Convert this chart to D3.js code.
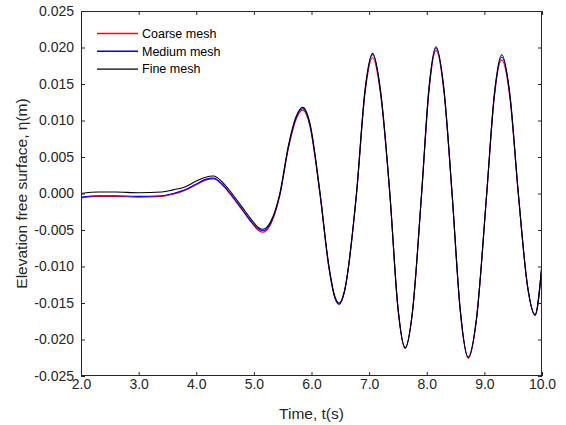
<!DOCTYPE html>
<html>
<head>
<meta charset="utf-8">
<script src="https://cdn.jsdelivr.net/npm/d3@7"></script>
<style>
  html, body { margin: 0; padding: 0; background: #fff; }
  svg { display: block; font-family: "Liberation Sans", Arial, sans-serif; }
</style>
</head>
<body>
<svg id="chart" width="566" height="425"></svg>
<script>
// ---- data ----
const time = [2.0, 2.3, 2.6, 3.0, 3.4, 3.6, 3.8, 4.0, 4.15, 4.3, 4.45, 4.62, 4.8, 4.96, 5.07, 5.15, 5.28, 5.45, 5.6, 5.73, 5.85, 5.97, 6.15, 6.3, 6.41, 6.48, 6.57, 6.78, 6.93, 7.06, 7.2, 7.36, 7.5, 7.625, 7.75, 7.91, 8.04, 8.16, 8.3, 8.44, 8.58, 8.72, 8.86, 9.04, 9.17, 9.30, 9.44, 9.59, 9.75, 9.88, 10.0];

const coarseMesh = [-0.0006, -0.0004, -0.0004, -0.0005, -0.0004, -0.0001, 0.0004, 0.0012, 0.0018, 0.0020, 0.0012, -0.0004, -0.0023, -0.0040, -0.0050, -0.0053, -0.0044, -0.0003, 0.0062, 0.0101, 0.0114, 0.0093, -0.0003, -0.0101, -0.0144, -0.0151, -0.0135, -0.0002, 0.0138, 0.0186, 0.0135, -0.0002, -0.0157, -0.0212, -0.0164, -0.0002, 0.0141, 0.0196, 0.0138, -0.0002, -0.0160, -0.0226, -0.0175, -0.0002, 0.0130, 0.0183, 0.0133, -0.0002, -0.0128, -0.0166, -0.0097];

const mediumMesh = [-0.0005, -0.0003, -0.0003, -0.0004, -0.0003, 0.0000, 0.0005, 0.0013, 0.0019, 0.0021, 0.0013, -0.0003, -0.0022, -0.0039, -0.0048, -0.0051, -0.0042, -0.0002, 0.0064, 0.0103, 0.0116, 0.0095, -0.0002, -0.0100, -0.0144, -0.0152, -0.0135, -0.0001, 0.0141, 0.0190, 0.0138, -0.0001, -0.0157, -0.0212, -0.0164, -0.0001, 0.0144, 0.0199, 0.0140, -0.0001, -0.0159, -0.0225, -0.0174, -0.0001, 0.0132, 0.0187, 0.0136, -0.0001, -0.0128, -0.0167, -0.0097];

const fineMesh = [0.0000, 0.0002, 0.0002, 0.0001, 0.0002, 0.0005, 0.0009, 0.0017, 0.0022, 0.0024, 0.0016, 0.0000, -0.0019, -0.0036, -0.0046, -0.0049, -0.0040, 0.0000, 0.0066, 0.0105, 0.0118, 0.0097, 0.0000, -0.0098, -0.0142, -0.0150, -0.0134, 0.0000, 0.0143, 0.0192, 0.0140, 0.0000, -0.0156, -0.0211, -0.0163, 0.0000, 0.0146, 0.0201, 0.0142, 0.0000, -0.0158, -0.0224, -0.0173, 0.0000, 0.0134, 0.0190, 0.0138, 0.0000, -0.0127, -0.0166, -0.0096];

const seriesNames = ["Coarse mesh", "Medium mesh", "Fine mesh"];
const seriesColors = ["#ff0000", "#0000ff", "#000000"];

const xTicks = [2, 3, 4, 5, 6, 7, 8, 9, 10];
const xTickLabels = ["2.0", "3.0", "4.0", "5.0", "6.0", "7.0", "8.0", "9.0", "10.0"];
const yTicks = [-0.025, -0.020, -0.015, -0.010, -0.005, 0, 0.005, 0.010, 0.015, 0.020, 0.025];
const yTickLabels = ["-0.025", "-0.020", "-0.015", "-0.010", "-0.005", "0.000", "0.005", "0.010", "0.015", "0.020", "0.025"];

const xLabel = "Time, t(s)";
const yLabel = "Elevation free surface, η(m)";

// ---- layout ----
const W = 566, H = 425;
const plot = { left: 81, right: 542, top: 11, bottom: 376 };
const axisColor = "#262626";

const svg = d3.select("#chart");
svg.append("rect").attr("width", W).attr("height", H).attr("fill", "#fff");

const x = d3.scaleLinear().domain([2, 10]).range([plot.left, plot.right]);
const y = d3.scaleLinear().domain([-0.025, 0.025]).range([plot.bottom, plot.top]);

// clip
svg.append("defs").append("clipPath").attr("id", "clip")
  .append("rect")
  .attr("x", plot.left).attr("y", plot.top)
  .attr("width", plot.right - plot.left).attr("height", plot.bottom - plot.top);

// series
const allSeries = [coarseMesh, mediumMesh, fineMesh];
const lineGen = d3.line()
  .x((d, i) => x(time[i]))
  .y(d => y(d))
  .curve(d3.curveMonotoneX);

const g = svg.append("g").attr("clip-path", "url(#clip)");
allSeries.forEach((vals, k) => {
  g.append("path")
    .attr("d", lineGen(vals))
    .style("fill", "none")
    .style("stroke", seriesColors[k])
    .style("stroke-width", "1.1px")
    .style("stroke-linejoin", "round");
});

// axes
function styleAxis(sel) {
  sel.select(".domain").remove();
  sel.selectAll(".tick line").attr("stroke", axisColor).attr("stroke-width", 1);
  sel.selectAll(".tick text").attr("fill", axisColor)
    .style("font-size", "14px").style("font-family", "'Liberation Sans', Arial, sans-serif");
}

const xAxis = d3.axisBottom(x).tickValues(xTicks)
  .tickFormat((d, i) => xTickLabels[i]).tickSize(-4).tickPadding(3);
svg.append("g").attr("transform", `translate(0,${plot.bottom})`).call(xAxis).call(styleAxis);

const xAxisTop = d3.axisTop(x).tickValues(xTicks).tickFormat("").tickSize(-4);
svg.append("g").attr("transform", `translate(0,${plot.top})`).call(xAxisTop).call(styleAxis);

const yAxis = d3.axisLeft(y).tickValues(yTicks)
  .tickFormat((d, i) => yTickLabels[i]).tickSize(-4).tickPadding(7);
svg.append("g").attr("transform", `translate(${plot.left},0)`).call(yAxis).call(styleAxis);

const yAxisRight = d3.axisRight(y).tickValues(yTicks).tickFormat("").tickSize(-4);
svg.append("g").attr("transform", `translate(${plot.right},0)`).call(yAxisRight).call(styleAxis);

// box
svg.append("rect")
  .attr("x", plot.left + 0.5).attr("y", plot.top + 0.5)
  .attr("width", plot.right - plot.left - 1).attr("height", plot.bottom - plot.top - 1)
  .attr("fill", "none").attr("stroke", axisColor).attr("stroke-width", 1);

// axis labels
svg.append("text")
  .attr("x", (plot.left + plot.right) / 2).attr("y", 419)
  .attr("text-anchor", "middle")
  .attr("fill", axisColor)
  .style("font-size", "15.5px")
  .text(xLabel);

svg.append("text")
  .attr("transform", `translate(27,${(plot.top + plot.bottom) / 2}) rotate(-90)`)
  .attr("text-anchor", "middle")
  .attr("fill", axisColor)
  .style("font-size", "15.5px")
  .text(yLabel);

// legend
const legend = svg.append("g").attr("class", "legend");
const legendY0 = 33.5, legendDy = 17.8;
seriesNames.forEach((name, k) => {
  const yy = legendY0 + k * legendDy;
  legend.append("path")
    .attr("d", `M97,${yy}H138`)
    .style("fill", "none")
    .style("stroke", seriesColors[k])
    .style("stroke-width", "1.4px");
  legend.append("text")
    .attr("x", 142).attr("y", yy)
    .attr("dy", "0.35em")
    .attr("fill", "#000")
    .style("font-size", "12.5px")
    .text(name);
});
</script>
</body>
</html>
